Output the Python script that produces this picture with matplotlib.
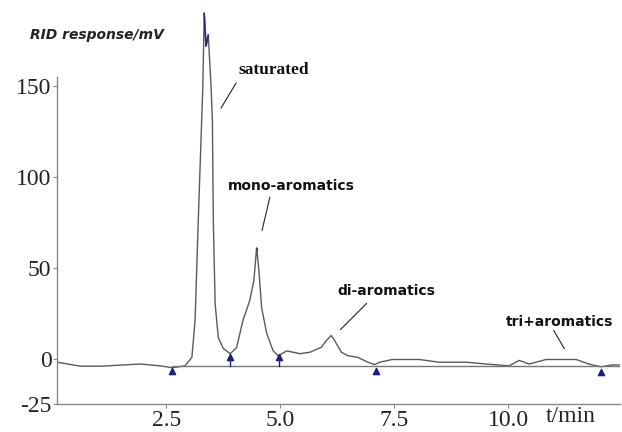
import numpy as np
from matplotlib import pyplot as plt

#------------------------------------------------------------------------------
#	Data
#------------------------------------------------------------------------------
t_min = [0.11, 0.61, 1.05, 1.93, 2.36, 2.63, 2.91, 3.06, 3.13, 3.20, 3.25, 3.30,
	3.33, 3.37, 3.42, 3.48, 3.51, 3.53, 3.57, 3.64, 3.75, 3.90, 4.04, 4.18,
	4.33, 4.42, 4.48, 4.53, 4.59, 4.70, 4.84, 4.95, 5.14, 5.32, 5.43, 5.65,
	5.90, 6.01, 6.12, 6.19, 6.34, 6.48, 6.70, 6.92, 7.07, 7.18, 7.46, 8.05,
	8.49, 9.08, 9.52, 10.02, 10.24, 10.46, 10.83, 11.27, 11.49, 11.77, 12.03,
	12.28, 12.43]
signal_mv = [-2, -4.2, -4.2, -3, -4, -5, -4, 0.7, 21, 76, 113, 150,
	190, 172, 178, 150, 131, 76, 30, 11.5, 5.5, 2.7, 6, 21,
	32, 43, 61, 48.5, 28, 14, 4.4, 1.6, 4.2, 3.3, 2.7, 3.5,
	6.2, 10, 12.7, 10, 3.5, 1.6, 0.7, -2, -3.3, -2, -0.5, -0.5,
	-2, -2, -3, -4, -1, -3, -0.5, -0.5, -0.5, -3, -4.5,
	-3.5, -3.5]

baseline_t = [2.63, 12.43]
baseline_mv = [-4.3, -4.3]

# integration marks (triangles)
mark_t = [2.63, 3.90, 4.97, 7.09, 12.03]
mark_mv = [-7, 1, 1, -7, -7.5]

# peak labels: text, text position, line start, line end
labels = ["saturated", "mono-aromatics", "di-aromatics", "tri+aromatics"]
label_xy = [(4.86, 158.8), (5.25, 94.9), (7.33, 37), (11.12, 19.9)]
line_from = [(4.03, 151.7), (4.77, 88.8), (6.89, 30.3), (11.0, 15.4)]
line_to = [(3.70, 137.9), (4.60, 70.6), (6.32, 16.0), (11.23, 5.5)]

y_ticks = [-25, 0, 50, 100, 150]
x_ticks = [2.5, 5.0, 7.5, 10.0]

#------------------------------------------------------------------------------
#	Plot
#------------------------------------------------------------------------------
fig = plt.figure(figsize=(6.22, 4.32), dpi=100)
ax = fig.add_axes([0.0916, 0.0648, 0.905, 0.924])

trace = '#5a5a5a'
navy = '#1c1f7a'

ax.plot(t_min, signal_mv, color=trace, lw=1.0)
ax.plot(baseline_t, baseline_mv, color='#777777', lw=1.0)

# drop lines at the valley marks
for t, v in zip(mark_t, mark_mv):
	if v > baseline_mv[0]:
		ax.plot([t, t], [v, baseline_mv[0]], color=navy, lw=1.0)
ax.scatter(mark_t, mark_mv, marker='^', s=20, color=navy, zorder=5)

# apex markers
ax.plot(t_min[12:15], signal_mv[12:15], color=navy, lw=1.3, alpha=0.8)
ax.scatter([4.48], [60], marker='|', s=12, color=navy)

fonts = [dict(family='Liberation Serif', fontweight='bold', fontsize=12.5),
	dict(family='DejaVu Sans', fontweight='bold', fontsize=10),
	dict(family='DejaVu Sans', fontweight='bold', fontsize=10),
	dict(family='DejaVu Sans', fontweight='bold', fontsize=10)]
for txt, xy, p0, p1, f in zip(labels, label_xy, line_from, line_to, fonts):
	ax.text(xy[0], xy[1], txt, ha='center', va='center', color='#111111', **f)
	ax.plot([p0[0], p1[0]], [p0[1], p1[1]], color='#222222', lw=0.8)

ax.set_xlim(0.1, 12.45)
ax.set_ylim(-25, 194.7)
ax.set_xticks(x_ticks)
ax.set_xticklabels(['2.5', '5.0', '7.5', '10.0'])
ax.set_yticks(y_ticks)
ax.set_yticklabels(['-25', '0', '50', '100', '150'])
ax.tick_params(axis='both', colors='#888888', labelcolor='#222222', length=3,
	width=0.8, pad=1)
for lab in ax.get_xticklabels() + ax.get_yticklabels():
	lab.set_family('Liberation Serif')
	lab.set_fontsize(17)

ax.spines['top'].set_visible(False)
ax.spines['right'].set_visible(False)
ax.spines['left'].set_bounds(-25, 155)
for s in ['left', 'bottom']:
	ax.spines[s].set_color('#888888')
	ax.spines[s].set_linewidth(1.0)

fig.text(0.048, 0.918, 'RID response/mV', family='DejaVu Sans', fontweight='bold',
	style='italic', fontsize=10, color='#222222', ha='left', va='center')
fig.text(0.917, 0.037, 't/min', family='Liberation Serif', fontsize=17,
	color='#222222', ha='center', va='center')

plt.savefig('out.png', dpi=100)
